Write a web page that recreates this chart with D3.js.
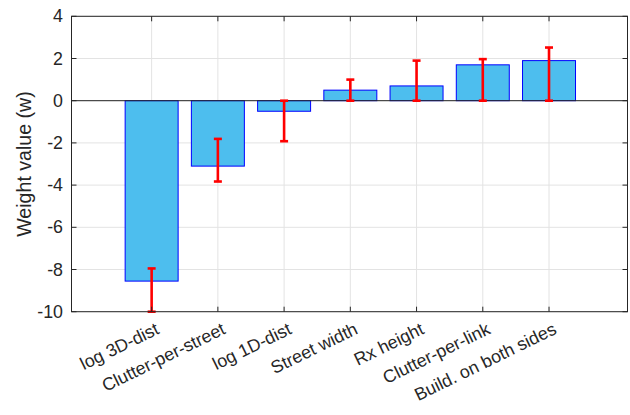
<!DOCTYPE html>
<html>
<head>
<meta charset="utf-8">
<script src="https://cdn.jsdelivr.net/npm/d3@7"></script>
<style>
  html, body { margin: 0; padding: 0; background: #fff; }
  svg { display: block; }
  text { font-family: "Liberation Sans", Arial, Helvetica, sans-serif; fill: #262626; }
</style>
</head>
<body>
<svg id="chart" width="630" height="415"></svg>
<script>
const categories = ["log 3D-dist", "Clutter-per-street", "log 1D-dist", "Street width", "Rx height", "Clutter-per-link", "Build. on both sides"];
const values = [-8.55, -3.1, -0.5, 0.5, 0.7, 1.7, 1.9];
const errLow = [-10, -3.83, -1.92, 0, 0, 0, 0];
const errHigh = [-7.95, -1.81, 0, 1.0, 1.9, 1.97, 2.52];
const yTicks = [-10, -8, -6, -4, -2, 0, 2, 4];
const yLabel = "Weight value (w)";

const svg = d3.select("#chart");
const L = 71.5, R = 627.5, T = 16.3, B = 311.7;
const x = d3.scaleLinear().domain([-0.21, 8.185]).range([L, R]);
const y = d3.scaleLinear().domain([-10, 4]).range([B, T]);
const idx = d3.range(1, categories.length + 1);
const axisColor = "#262626";

// grid
const g = svg.append("g");
g.selectAll("line.gy").data(yTicks).join("line")
  .attr("x1", L).attr("x2", R).attr("y1", d => y(d)).attr("y2", d => y(d))
  .attr("stroke", "#e3e3e3").attr("stroke-width", 1);
g.selectAll("line.gx").data(idx).join("line")
  .attr("x1", d => x(d)).attr("x2", d => x(d)).attr("y1", T).attr("y2", B)
  .attr("stroke", "#e3e3e3").attr("stroke-width", 1);

// bars
const bw = x(1.8) - x(1);
svg.append("g").selectAll("rect").data(values).join("rect")
  .attr("x", (d, i) => x(i + 1) - bw / 2)
  .attr("width", bw)
  .attr("y", d => Math.min(y(d), y(0)))
  .attr("height", d => Math.abs(y(d) - y(0)))
  .attr("fill", "#4DBEEE")
  .attr("stroke", "#0000FF").attr("stroke-width", 1);

// baseline
svg.append("line").attr("x1", L).attr("x2", R).attr("y1", y(0)).attr("y2", y(0))
  .attr("stroke", "#262626").attr("stroke-width", 1);

// error bars
const eg = svg.append("g").attr("stroke", "#FF0000").attr("stroke-width", 2.6);
const cap = 4;
categories.forEach((c, i) => {
  const cx = x(i + 1);
  eg.append("line").attr("x1", cx).attr("x2", cx).attr("y1", y(errLow[i])).attr("y2", y(errHigh[i]));
  eg.append("line").attr("x1", cx - cap).attr("x2", cx + cap).attr("y1", y(errLow[i])).attr("y2", y(errLow[i]));
  eg.append("line").attr("x1", cx - cap).attr("x2", cx + cap).attr("y1", y(errHigh[i])).attr("y2", y(errHigh[i]));
});

// axes box
svg.append("rect").attr("x", L).attr("y", T).attr("width", R - L).attr("height", B - T)
  .attr("fill", "none").attr("stroke", axisColor).attr("stroke-width", 1);

// ticks (inward, all four sides)
const tl = 5;
const tk = svg.append("g").attr("stroke", axisColor).attr("stroke-width", 1);
idx.forEach(d => {
  tk.append("line").attr("x1", x(d)).attr("x2", x(d)).attr("y1", B).attr("y2", B - tl);
  tk.append("line").attr("x1", x(d)).attr("x2", x(d)).attr("y1", T).attr("y2", T + tl);
});
yTicks.forEach(d => {
  tk.append("line").attr("x1", L).attr("x2", L + tl).attr("y1", y(d)).attr("y2", y(d));
  tk.append("line").attr("x1", R).attr("x2", R - tl).attr("y1", y(d)).attr("y2", y(d));
});

// y tick labels
svg.append("g").selectAll("text").data(yTicks).join("text")
  .attr("x", L - 8.5).attr("y", d => y(d))
  .attr("text-anchor", "end").attr("dominant-baseline", "central")
  .attr("font-size", 17.8)
  .text(d => d);

// x tick labels rotated
svg.append("g").selectAll("text").data(categories).join("text")
  .attr("transform", (d, i) => `translate(${x(i + 1) + 6},${B + 16}) rotate(-26)`)
  .attr("text-anchor", "end").attr("dominant-baseline", "central")
  .attr("font-size", 17.8)
  .text(d => d);

// y label
svg.append("text")
  .attr("transform", `translate(24,${(T + B) / 2}) rotate(-90)`)
  .attr("text-anchor", "middle").attr("dominant-baseline", "central")
  .attr("font-size", 19.6)
  .text(yLabel);
</script>
</body>
</html>
